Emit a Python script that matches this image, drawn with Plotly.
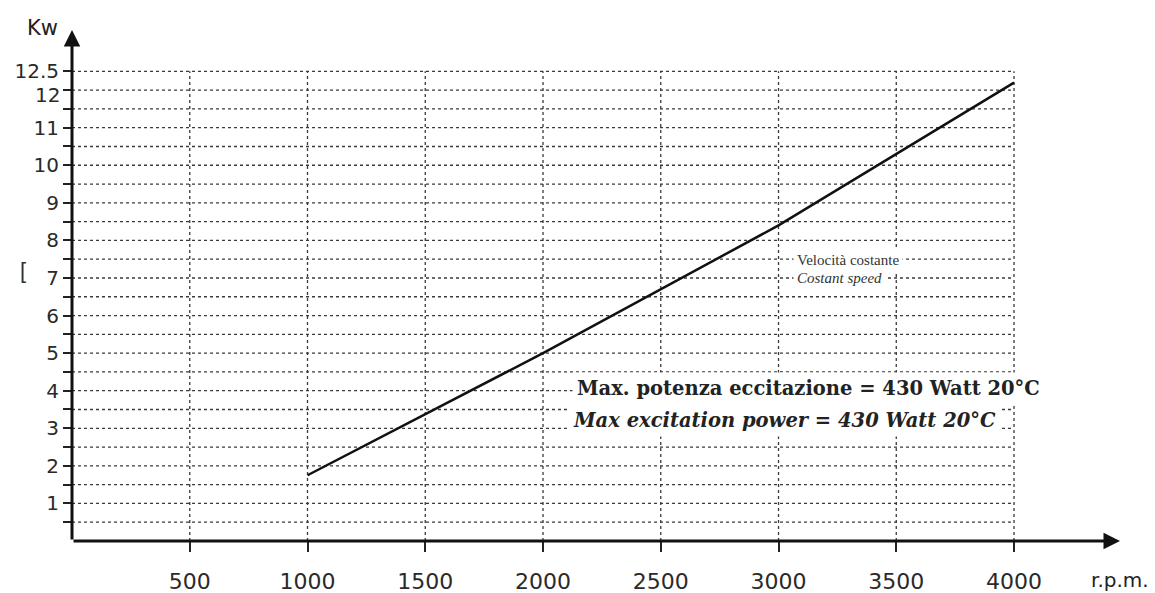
import plotly.graph_objects as go

# ---- data ----
rpm = [1000, 2000, 3000, 4000]
kw = [1.75, 5.0, 8.4, 12.2]
x_ticks = [500, 1000, 1500, 2000, 2500, 3000, 3500, 4000]
y_grid = [i * 0.5 for i in range(1, 26)]  # 0.5 .. 12.5
x_max_grid = 4000
y_max_grid = 12.5
x_axis_end = 4450
y_axis_end = 13.6

fig = go.Figure()

# horizontal dotted grid
hx, hy = [], []
for y in y_grid:
    hx += [0, x_max_grid, None]
    hy += [y, y, None]
fig.add_trace(go.Scatter(x=hx, y=hy, mode="lines",
                         line=dict(color="#3a3a3a", width=1.3, dash="dot"),
                         hoverinfo="skip", showlegend=False))
# vertical dotted grid
vx, vy = [], []
for x in x_ticks:
    vx += [x, x, None]
    vy += [0, y_max_grid, None]
fig.add_trace(go.Scatter(x=vx, y=vy, mode="lines",
                         line=dict(color="#3a3a3a", width=1.3, dash="dot"),
                         hoverinfo="skip", showlegend=False))

# main curve
fig.add_trace(go.Scatter(x=rpm, y=kw, mode="lines",
                         line=dict(color="#111111", width=2.5),
                         hoverinfo="skip", showlegend=False))

# y tick labels: integers 1..11 and 12.5 on the axis; "12" placed separately (slightly lower)
ticktext_y = []
for y in y_grid:
    if y == 12.5:
        ticktext_y.append("12.5")
    elif y == int(y) and y != 12:
        ticktext_y.append(str(int(y)))
    else:
        ticktext_y.append("")

fig.update_layout(
    width=1147, height=585,
    margin=dict(l=64, r=35, t=22, b=52),
    paper_bgcolor="white", plot_bgcolor="white",
    showlegend=False,
    xaxis=dict(range=[0, x_axis_end], showgrid=False, zeroline=False, showline=False,
               automargin=False,
               tickvals=x_ticks, ticktext=[str(v) for v in x_ticks],
               ticks="outside", ticklen=10, tickwidth=1.5, tickcolor="#222",
               ticklabelstandoff=11,
               tickfont=dict(family="DejaVu Sans", size=22, color="#2a2a2a")),
    yaxis=dict(range=[0, y_axis_end], showgrid=False, zeroline=False, showline=False,
               automargin=False,
               tickvals=y_grid, ticktext=ticktext_y,
               ticks="outside", ticklen=8, tickwidth=1.5, tickcolor="#222",
               tickfont=dict(family="DejaVu Sans", size=20, color="#2a2a2a")),
)

fig.add_annotation(x=0, y=12, xref="x", yref="y", text="12", showarrow=False,
                   xanchor="right", yanchor="middle", xshift=-10, yshift=-5,
                   font=dict(family="DejaVu Sans", size=20, color="#2a2a2a"))

# axes with arrowheads
fig.add_annotation(x=x_axis_end, y=0, ax=0, ay=0, xref="x", yref="y", axref="x", ayref="y",
                   showarrow=True, arrowhead=2, arrowsize=1.1, arrowwidth=3,
                   arrowcolor="#111", text="")
fig.add_annotation(x=0, y=y_axis_end, ax=0, ay=0, xref="x", yref="y", axref="x", ayref="y",
                   showarrow=True, arrowhead=2, arrowsize=1.1, arrowwidth=3,
                   arrowcolor="#111", text="")

# axis titles
fig.add_annotation(x=0, y=1, xref="x", yref="paper", text="Kw", showarrow=False,
                   xanchor="right", yanchor="middle", xshift=-12, yshift=2,
                   font=dict(family="DejaVu Sans", size=21, color="#222"))
fig.add_annotation(x=x_axis_end, y=0, xref="x", yref="y", text="r.p.m.", showarrow=False,
                   xanchor="center", xshift=0, yshift=-39,
                   font=dict(family="DejaVu Sans", size=20, color="#222"))

# scan bracket
fig.add_annotation(xref="paper", yref="paper", x=-0.052, y=0.53, text="[", showarrow=False,
                   font=dict(family="Liberation Sans", size=22, color="#333"))

# text labels
fig.add_annotation(x=3060, y=7.47, xref="x", yref="y", xanchor="left",
                   text="Velocità costante", showarrow=False, bgcolor="white", borderpad=3,
                   font=dict(family="Liberation Serif", size=15, color="#333"))
fig.add_annotation(x=3060, y=7.0, xref="x", yref="y", xanchor="left",
                   text="<i>Costant speed</i>", showarrow=False, bgcolor="white", borderpad=3,
                   font=dict(family="Liberation Serif", size=15, color="#333"))

fig.add_annotation(x=2125, y=4.06, xref="x", yref="y", xanchor="left",
                   text="<b>Max. potenza eccitazione = 430 Watt 20°C</b>", showarrow=False,
                   bgcolor="white", borderpad=4,
                   font=dict(family="DejaVu Serif", size=19.5, color="#222"))
fig.add_annotation(x=2105, y=3.2, xref="x", yref="y", xanchor="left",
                   text="<b><i>Max excitation power = 430 Watt 20°C</i></b>", showarrow=False,
                   bgcolor="white", borderpad=4,
                   font=dict(family="DejaVu Serif", size=19.5, color="#222"))

fig.write_html("out.html")
